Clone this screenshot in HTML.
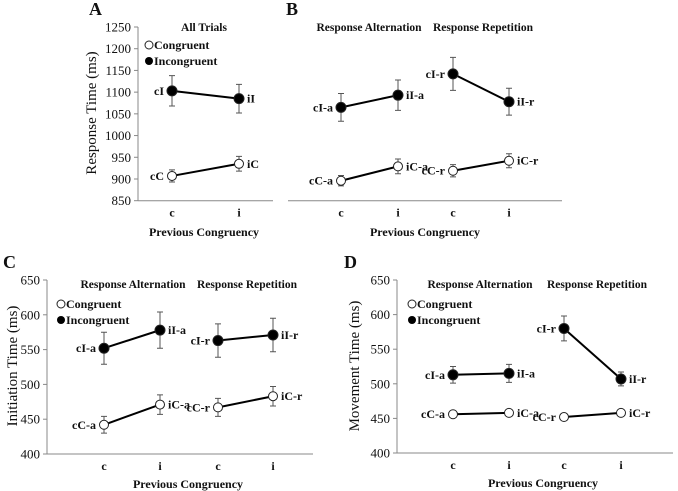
<!DOCTYPE html>
<html><head><meta charset="utf-8"><style>
html,body{margin:0;padding:0;background:#fff}
svg{display:block}
svg text{font-family:"Liberation Serif","Times New Roman",Times,serif !important;fill:#111}
.b{font-weight:bold}
</style></head><body>
<svg id="chart" width="678" height="491" viewBox="0 0 678 491" font-family="Liberation Serif, serif" xmlns="http://www.w3.org/2000/svg"></svg>
<script>
// Panel A data (All Trials)
const aCats=["c","i"];
const aIncong=[1103,1085];
const aIncongErr=[35,33];
const aCong=[907,935];
const aCongErr=[14,17];
const aTicks=[850,900,950,1000,1050,1100,1150,1200,1250];
// Panel B data (Alternation then Repetition)
const bCats=["c","i","c","i"];
const bIncong=[1065,1093,1142,1078];
const bIncongErr=[32,35,38,31];
const bCong=[896,929,919,942];
const bCongErr=[12,17,14,16];
// Panel C data
const cCats=["c","i","c","i"];
const cIncong=[552,578,563,571];
const cIncongErr=[23,26,24,24];
const cCong=[442,471,467,483];
const cCongErr=[12,14,13,14];
const cTicks=[400,450,500,550,600,650];
// Panel D data
const dCats=["c","i","c","i"];
const dIncong=[513,515,580,507];
const dIncongErr=[12,13,18,10];
const dCong=[456,458,452,458];
const dCongErr=[3,3,2,3];
const dTicks=[400,450,500,550,600,650];
const incLabels4=["cI-a","iI-a","cI-r","iI-r"];
const conLabels4=["cC-a","iC-a","cC-r","iC-r"];

const NS="http://www.w3.org/2000/svg";
const svg=document.getElementById('chart');
function el(tag,attrs,parent,txt){const e=document.createElementNS(NS,tag);for(const k in attrs)e.setAttribute(k,attrs[k]);if(tag==='text')e.setAttribute('font-family','Liberation Serif, serif');if(txt!==undefined)e.textContent=txt;(parent||svg).appendChild(e);return e;}

function panel(o){
  const g=el('g',{});
  
  
  const y=v=>o.y0+(v-o.vmin)/(o.vmax-o.vmin)*(o.y1-o.y0);
  const t=el('text',{x:o.letterX,y:o.letterY,class:'b','font-size':18},g,o.letter);
  
  if(o.yAxis){
    const ax=el('line',{x1:o.ax,x2:o.ax,y1:o.y1,y2:o.y0,stroke:'#888','stroke-width':1},g);
    
    o.ticks.forEach(v=>{
      const tk=el('line',{x1:o.ax-4,x2:o.ax,y1:y(v),y2:y(v),stroke:'#888'},g);
      
      const tl=el('text',{x:o.ax-7,y:y(v)+4.5,'text-anchor':'end','font-size':13},g,String(v));
      
    });
    const yt=el('text',{x:o.ytX,y:o.ytY,'text-anchor':'middle','font-size':15,transform:`rotate(-90 ${o.ytX} ${o.ytY})`},g,o.yTitle);
    
  }
  const xa=el('line',{x1:o.xa0,x2:o.xa1,y1:o.y0,y2:o.y0,stroke:'#888'},g);
  
  o.cats.forEach((c,i)=>{
    const tl=el('text',{x:o.xs[i],y:o.y0+16,'text-anchor':'middle','font-size':12,class:'b'},g,c);
    
  });
  const xt=el('text',{x:o.xtX,y:o.xtY,'text-anchor':'middle','font-size':12,class:'b'},g,'Previous Congruency');
  
  o.titles.forEach(tt=>{
    const e=el('text',{x:tt[0],y:tt[1],'text-anchor':'middle','font-size':11.5,class:'b'},g,tt[2]);
    
  });
  if(o.legend){
    const [lx,ly]=o.legend;
    const c1=el('circle',{cx:lx+4,cy:ly,r:4,fill:'#fff',stroke:'#222'},g);
    
    const l1=el('text',{x:lx+9,y:ly+4,'font-size':12,class:'b'},g,'Congruent');
    
    const c2=el('circle',{cx:lx+4,cy:ly+16,r:4,fill:'#000'},g);
    
    const l2=el('text',{x:lx+9,y:ly+20,'font-size':12,class:'b'},g,'Incongruent');
    
  }
  function series(vals,errs,labels,filled,nm){
    for(let s=0;s<vals.length;s+=2){
      const ln=el('line',{x1:o.xs[s],y1:y(vals[s]),x2:o.xs[s+1],y2:y(vals[s+1]),stroke:'#000','stroke-width':2},g);
      
    }
    vals.forEach((v,i)=>{
      const x=o.xs[i];
      const eb=el('path',{d:`M${x},${y(v+errs[i])}V${y(v-errs[i])}M${x-3},${y(v+errs[i])}h6M${x-3},${y(v-errs[i])}h6`,stroke:'#555','stroke-width':1,fill:'none'},g);
      
      const p=el('circle',{cx:x,cy:y(v),r:filled?5:4.5,fill:filled?'#000':'#fff',stroke:'#222','stroke-width':1},g);
      
      const left=i%2===0;
      const lb=el('text',{x:left?x-8:x+8,y:y(v)+4,'text-anchor':left?'end':'start','font-size':12,class:'b'},g,labels[i]);
      
    });
  }
  series(o.inc,o.incErr,o.incL,true,'incongruent');
  series(o.con,o.conErr,o.conL,false,'congruent');
}

panel({name:'panel-a',letter:'A',letterX:89,letterY:15,yAxis:true,ax:138,y0:200.7,y1:27,vmin:850,vmax:1250,ticks:aTicks,
  yTitle:'Response Time (ms)',ytX:96,ytY:113,xa0:138,xa1:273,cats:aCats,xs:[172,239],xtX:204,xtY:236,
  titles:[[204,31,'All Trials']],legend:[145,45],inc:aIncong,incErr:aIncongErr,incL:['cI','iI'],con:aCong,conErr:aCongErr,conL:['cC','iC']});
panel({name:'panel-b',letter:'B',letterX:286,letterY:15,yAxis:false,y0:200.7,y1:27,vmin:850,vmax:1250,
  xa0:288,xa1:562,cats:bCats,xs:[341,398,453,509],xtX:425,xtY:236,
  titles:[[369,31,'Response Alternation'],[483,31,'Response Repetition']],inc:bIncong,incErr:bIncongErr,incL:incLabels4,con:bCong,conErr:bCongErr,conL:conLabels4});
panel({name:'panel-c',letter:'C',letterX:3,letterY:268,yAxis:true,ax:47,y0:454,y1:280,vmin:400,vmax:650,ticks:cTicks,
  yTitle:'Initiation Time (ms)',ytX:17,ytY:366,xa0:47,xa1:313,cats:cCats,xs:[104,160,218,273],xtX:188,xtY:488,
  titles:[[133,288,'Response Alternation'],[247,288,'Response Repetition']],legend:[57,304],inc:cIncong,incErr:cIncongErr,incL:incLabels4,con:cCong,conErr:cCongErr,conL:conLabels4});
panel({name:'panel-d',letter:'D',letterX:344,letterY:268,yAxis:true,ax:397,y0:453,y1:280,vmin:400,vmax:650,ticks:dTicks,
  yTitle:'Movement Time (ms)',ytX:359,ytY:366,xa0:397,xa1:673,cats:dCats,xs:[453,509,564,621],xtX:543,xtY:487,
  titles:[[480,288,'Response Alternation'],[597,288,'Response Repetition']],legend:[408,304],inc:dIncong,incErr:dIncongErr,incL:incLabels4,con:dCong,conErr:dCongErr,conL:conLabels4});
</script>
</body></html>
